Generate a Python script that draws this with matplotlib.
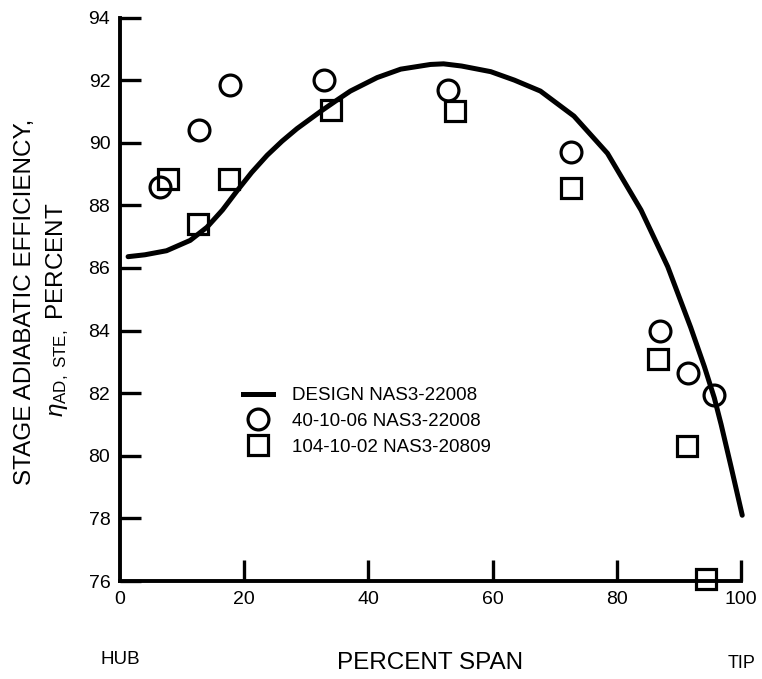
import matplotlib
matplotlib.use("Agg")
import matplotlib.pyplot as plt
from matplotlib.lines import Line2D

plt.rcParams['font.family'] = ['Liberation Sans', 'DejaVu Sans']
plt.rcParams['mathtext.fontset'] = 'custom'
plt.rcParams['mathtext.rm'] = 'Liberation Sans'
plt.rcParams['mathtext.it'] = 'Liberation Sans:italic'

# design curve
design_x = [1.3, 4.0, 7.5, 11.3, 14.0, 16.5, 18.8, 21.2, 23.7, 26.1, 28.5, 32.3,
            35.0, 37.1, 41.4, 45.2, 50.0, 52.1, 55.0, 59.7, 63.5, 67.7, 73.1,
            78.5, 83.9, 88.2, 91.9, 94.1, 95.7, 96.8, 98.4, 100.2]
design_y = [86.36, 86.42, 86.55, 86.88, 87.3, 87.85, 88.45, 89.05, 89.6, 90.05,
            90.45, 91.0, 91.37, 91.65, 92.08, 92.35, 92.5, 92.52, 92.45, 92.27,
            92.0, 91.65, 90.85, 89.66, 87.85, 86.04, 84.1, 82.85, 81.85, 81.0,
            79.65, 78.1]

# 40-10-06 NAS3-22008 (circles)
circ_x = [6.5, 12.7, 17.7, 32.8, 52.8, 72.6, 86.9, 91.4, 95.7]
circ_y = [88.6, 90.4, 91.85, 92.0, 91.7, 89.7, 84.0, 82.65, 81.95]

# 104-10-02 NAS3-20809 (squares)
sq_x = [7.8, 12.6, 17.5, 33.9, 54.0, 72.6, 86.7, 91.3, 94.4]
sq_y = [88.85, 87.4, 88.85, 91.05, 91.02, 88.55, 83.1, 80.3, 76.05]

xticks = [0, 20, 40, 60, 80, 100]
yticks = [76, 78, 80, 82, 84, 86, 88, 90, 92, 94]

fig = plt.figure(figsize=(7.62, 6.79), dpi=100)
ax = fig.add_axes([120 / 762, 1 - 581 / 679, 621 / 762, 563.5 / 679])

ax.plot(design_x, design_y, color='black', lw=3.6, solid_capstyle='round',
        solid_joinstyle='round', clip_on=False)
mk = dict(linestyle='none', markersize=15, markerfacecolor='none',
          markeredgecolor='black', markeredgewidth=2.3, clip_on=False)
ax.plot(circ_x, circ_y, marker='o', **mk)
ax.plot(sq_x, sq_y, marker='s', **mk)

ax.set_xlim(0, 100)
ax.set_ylim(76, 94)
ax.set_xticks(xticks)
ax.set_yticks(yticks)
for s in ['top', 'right']:
    ax.spines[s].set_visible(False)
for s in ['left', 'bottom']:
    ax.spines[s].set_linewidth(2.8)
ax.tick_params(direction='in', length=15, width=2.4, labelsize=14, pad=7)
ax.xaxis.get_major_ticks()[0].tick1line.set_visible(False)

handles = [Line2D([], [], color='black', lw=3.6),
           Line2D([], [], marker='o', **mk),
           Line2D([], [], marker='s', **mk)]
labels = ['DESIGN NAS3-22008', '40-10-06 NAS3-22008', '104-10-02 NAS3-20809']
ax.legend(handles, labels, loc='upper left', bbox_to_anchor=(0.186, 0.357),
          frameon=False, fontsize=13.5, handlelength=1.6, handletextpad=1.0,
          labelspacing=0.45, borderaxespad=0)

fig.text(25 / 762, 1 - 302 / 679, 'STAGE ADIABATIC EFFICIENCY,', rotation=90,
         fontsize=17.5, ha='center', va='center')
fig.text(58 / 762, 1 - 310 / 679, r'$\eta_{\mathrm{AD,\ STE,}}$ PERCENT',
         rotation=90, fontsize=17.5, ha='center', va='center')

fig.text(430 / 762, 1 - 663 / 679, 'PERCENT SPAN', fontsize=17.5,
         ha='center', va='center')
fig.text(120 / 762, 1 - 660 / 679, 'HUB', fontsize=13.5, ha='center', va='center')
fig.text(742 / 762, 1 - 663 / 679, 'TIP', fontsize=13, ha='center', va='center')

fig.savefig('out.png', dpi=100)
